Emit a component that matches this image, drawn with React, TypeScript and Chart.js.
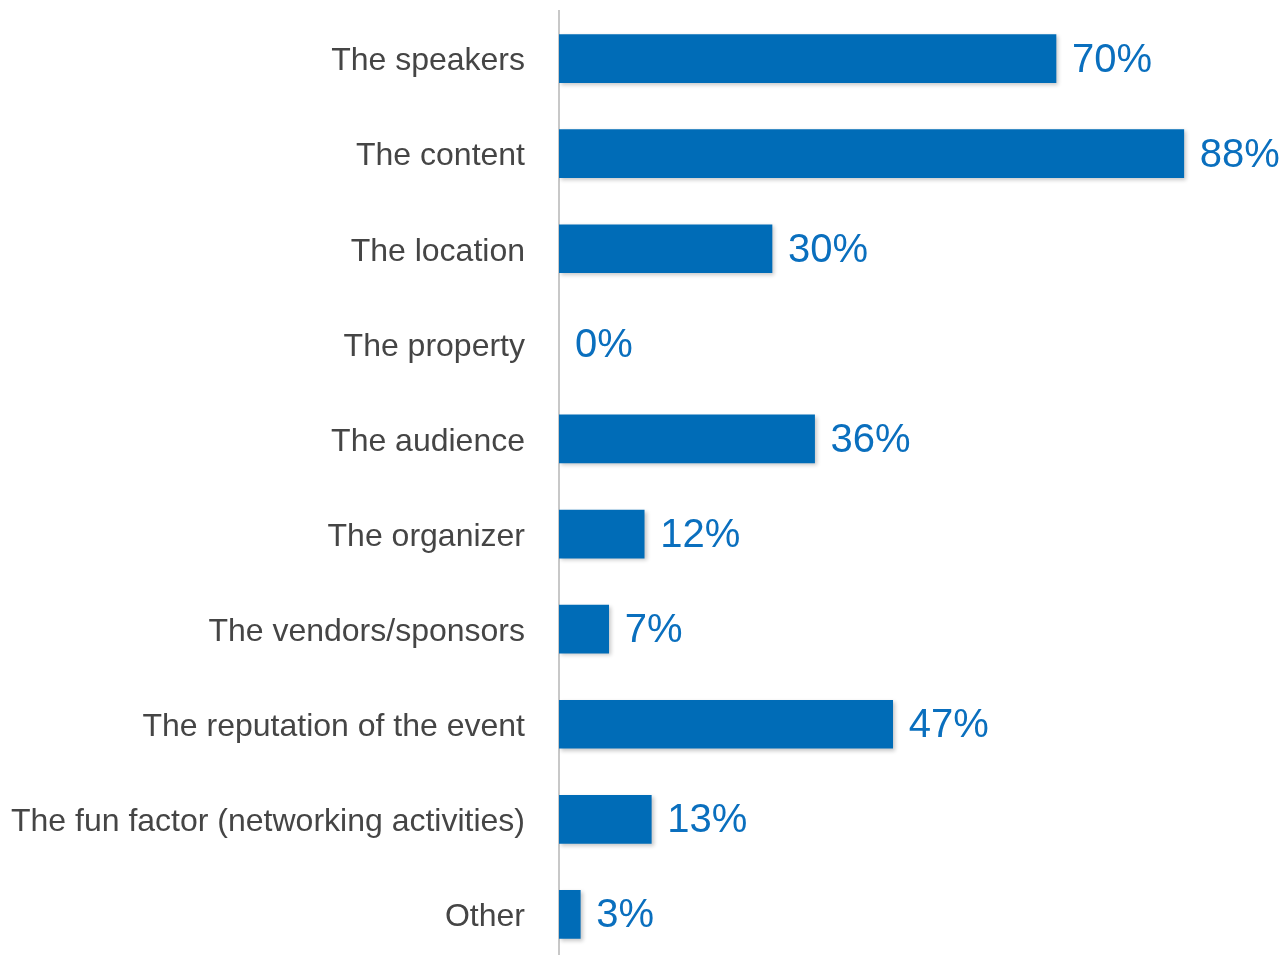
import React, { useEffect, useRef } from "react";
import { Chart, registerables } from "chart.js";

Chart.register(...registerables);

const categories = [
  "The speakers",
  "The content",
  "The location",
  "The property",
  "The audience",
  "The organizer",
  "The vendors/sponsors",
  "The reputation of the event",
  "The fun factor (networking activities)",
  "Other",
];
const values = [70, 88, 30, 0, 36, 12, 7, 47, 13, 3];

const BAR_COLOR = "#006CB7";
const LABEL_COLOR = "#0A6FBE";
const FONT = "'Liberation Sans', Arial, Helvetica, sans-serif";

const valueLabels = {
  id: "valueLabels",
  afterDatasetsDraw(chart: any) {
    const ctx = chart.ctx;
    const meta = chart.getDatasetMeta(0);
    ctx.save();
    ctx.font = `40px ${FONT}`;
    ctx.fillStyle = LABEL_COLOR;
    ctx.textAlign = "left";
    ctx.textBaseline = "middle";
    meta.data.forEach((bar: any, i: number) => {
      ctx.fillText(`${values[i]}%`, bar.x + 16, bar.y + 2);
    });
    ctx.restore();
  },
};

const barShadow = {
  id: "barShadow",
  beforeDatasetsDraw(chart: any) {
    const ctx = chart.ctx;
    ctx.save();
    ctx.shadowColor = "rgba(0,0,0,0.22)";
    ctx.shadowBlur = 4;
    ctx.shadowOffsetX = 2;
    ctx.shadowOffsetY = 2;
  },
  afterDatasetsDraw(chart: any) {
    chart.ctx.restore();
  },
};

export default function App() {
  const ref = useRef<HTMLCanvasElement>(null);
  useEffect(() => {
    if (!ref.current) return;
    const chart = new Chart(ref.current, {
      type: "bar",
      data: {
        labels: categories,
        datasets: [
          {
            data: values,
            backgroundColor: (c: any) => (c.raw === 0 ? "rgba(0,0,0,0)" : BAR_COLOR),
            borderWidth: 0,
            barThickness: 48,
          },
        ],
      },
      options: {
        indexAxis: "y",
        animation: false,
        responsive: false,
        events: [],
        layout: { padding: { top: 11, right: 15, bottom: 0, left: 0 } },
        plugins: {
          legend: { display: false },
          tooltip: { enabled: false },
        },
        scales: {
          x: {
            display: false,
            min: 0,
            max: 100,
          },
          y: {
            grid: { display: false, drawTicks: false },
            border: { display: true, color: "#C8C8C8", width: 2 },
            ticks: {
              color: "#454545",
              font: { family: FONT, size: 32 },
              padding: 34,
              labelOffset: 3,
            },
            afterFit: (scale: any) => {
              scale.width = 559;
              scale.paddingTop = 0;
              scale.paddingBottom = 0;
            },
          },
        },
      },
      plugins: [barShadow, valueLabels],
    });
    return () => chart.destroy();
  }, []);
  return (
    <div
      style={{
        position: "fixed",
        left: 0,
        top: 0,
        width: 1284,
        height: 955,
        overflow: "hidden",
        background: "#fff",
      }}
    >
      <canvas ref={ref} width={1284} height={962} style={{ display: "block" }} />
    </div>
  );
}
